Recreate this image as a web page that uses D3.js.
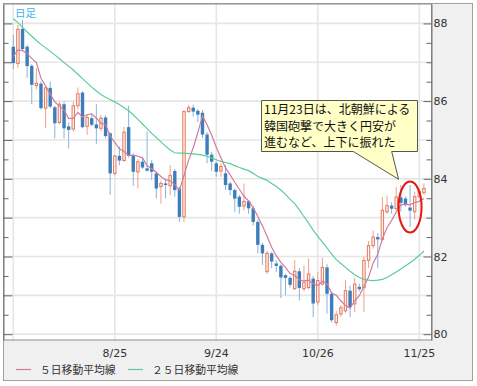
<!DOCTYPE html>
<html>
<head>
<meta charset="utf-8">
<script src="https://cdn.jsdelivr.net/npm/d3@7"></script>
<style>
body{margin:0;background:#fff;}
svg text{font-family:"DejaVu Sans",sans-serif;}
.jp{font-family:"Noto Sans CJK JP",sans-serif;}
</style>
</head>
<body>
<svg id="chart" width="477" height="386"></svg>
<script>
// daily candles, 2010/7/26 .. 2010/11/26 (index = trading day)
const openV = [87.40,86.97,87.86,87.40,86.91,86.40,86.45,85.82,86.34,85.84,
  85.45,85.92,85.35,85.28,85.88,86.22,85.35,85.56,85.40,85.30,
  85.58,85.17,84.14,84.59,84.47,85.33,84.59,84.18,84.44,84.27,
  84.40,84.14,83.80,83.88,83.82,84.20,83.75,83.02,85.73,85.83,
  85.75,85.70,85.14,84.62,84.40,84.20,84.14,83.88,83.71,83.54,
  83.30,83.42,83.24,82.89,82.30,81.61,82.08,81.82,81.76,81.52,
  81.45,81.17,81.62,81.17,81.20,81.43,80.83,81.29,81.72,81.04,
  80.30,80.52,80.60,81.12,80.78,81.22,81.20,81.90,82.28,82.50,
  82.44,83.15,83.31,83.23,83.52,83.49,83.26,83.15,83.54,83.64];
const highV = [87.70,87.96,88.09,87.45,86.95,86.85,86.51,86.38,86.51,85.88,
  85.99,85.99,85.45,85.99,86.35,86.25,85.66,85.64,85.92,85.64,
  85.64,85.20,84.61,84.83,85.34,85.88,84.65,84.50,84.57,85.22,
  84.48,84.18,83.95,84.01,84.35,84.25,83.80,85.77,85.91,85.91,
  85.80,85.77,85.20,84.70,84.45,84.40,84.35,83.92,83.75,83.58,
  83.88,83.45,83.30,82.95,82.35,82.15,82.12,81.90,81.80,81.55,
  81.50,81.91,81.70,81.77,81.95,81.50,81.60,81.97,81.80,81.10,
  80.60,80.75,81.39,81.25,81.45,81.30,82.00,82.40,82.67,82.60,
  83.53,83.57,83.40,83.79,83.84,83.55,83.84,83.67,83.72,83.88];
const lowV = [86.83,86.85,87.30,86.60,85.92,86.30,85.78,85.30,85.82,85.04,
  85.40,85.04,84.78,85.22,85.78,85.30,85.13,85.35,84.90,85.22,
  85.04,83.59,84.09,84.35,84.44,84.55,83.82,83.75,84.25,84.18,
  83.97,83.49,83.36,83.49,83.58,83.54,82.89,82.89,85.70,85.60,
  85.45,85.05,84.40,84.20,84.05,84.05,83.71,83.58,83.15,83.10,
  83.19,83.10,82.80,82.08,81.78,81.55,81.70,81.60,80.93,81.00,
  81.20,81.14,80.87,81.10,81.15,80.44,80.75,81.25,80.53,80.30,
  80.22,80.45,80.55,80.44,80.57,81.10,80.57,81.70,82.20,81.70,
  82.40,83.10,83.10,83.15,83.15,83.28,82.76,82.95,83.50,83.60];
const closeV = [86.98,87.85,87.34,86.90,86.42,86.46,85.82,86.34,85.86,85.43,
  85.92,85.30,85.26,85.88,86.19,85.33,85.58,85.39,85.30,85.56,
  85.10,84.14,84.59,84.47,85.20,84.59,84.18,84.44,84.29,84.21,
  84.18,83.75,83.88,83.84,84.09,83.71,83.02,85.73,85.83,85.73,
  85.65,85.14,84.62,84.44,84.18,84.32,83.84,83.71,83.49,83.28,
  83.42,83.24,82.89,82.30,82.08,82.08,81.87,81.76,81.46,81.45,
  81.27,81.62,81.19,81.34,81.55,80.79,81.38,81.72,81.04,80.36,
  80.50,80.68,81.12,80.70,81.29,81.16,81.90,82.28,82.50,82.44,
  83.19,83.31,83.23,83.53,83.38,83.32,83.18,83.54,83.67,83.75];
const ma5 = [87.15,87.32,87.30,87.22,87.10,86.99,86.59,86.39,86.18,85.98,
  85.87,85.77,85.55,85.56,85.71,85.59,85.65,85.67,85.56,85.43,
  85.39,85.10,84.94,84.77,84.70,84.60,84.61,84.58,84.54,84.34,
  84.26,84.17,84.06,83.97,83.95,83.85,83.71,84.08,84.48,84.80,
  85.19,85.62,85.39,85.12,84.81,84.54,84.28,84.10,83.91,83.73,
  83.55,83.43,83.26,83.03,82.79,82.52,82.24,82.02,81.85,81.72,
  81.56,81.51,81.40,81.37,81.39,81.30,81.25,81.36,81.30,81.06,
  81.00,80.86,80.74,80.67,80.86,80.99,81.23,81.47,81.83,82.06,
  82.46,82.74,82.93,83.14,83.33,83.35,83.33,83.39,83.42,83.49];
const ma25 = [88.12,88.02,87.90,87.78,87.67,87.56,87.46,87.37,87.28,87.19,
  87.09,86.99,86.90,86.80,86.69,86.58,86.47,86.36,86.26,86.17,
  86.10,86.04,85.98,85.91,85.83,85.75,85.65,85.53,85.41,85.29,
  85.17,85.06,84.95,84.84,84.74,84.67,84.66,84.66,84.65,84.64,
  84.63,84.61,84.58,84.54,84.49,84.45,84.42,84.39,84.34,84.29,
  84.25,84.21,84.14,84.06,84.01,83.96,83.88,83.80,83.71,83.60,
  83.47,83.36,83.20,83.03,82.86,82.68,82.52,82.37,82.22,82.06,
  81.92,81.82,81.72,81.62,81.53,81.46,81.41,81.39,81.38,81.39,
  81.41,81.46,81.53,81.60,81.68,81.76,81.84,81.93,82.03,82.14];

const gridDays = [0, 22, 44, 66, 88];
const tickDays = [22, 44, 66, 88];
const tickLabels = ["8/25", "9/24", "10/26", "11/25"];
const priceLabels = [80, 82, 84, 86, 88];
const noteLines = ["11月23日は、北朝鮮による", "韓国砲撃で大きく円安が", "進むなど、上下に振れた"];
const legendNames = ["５日移動平均線", "２５日移動平均線"];
const chartTitle = "日足";

const svg = d3.select("#chart");
const L = 3.5, R = 431.5, T = 4, B = 340;

const x = d3.scaleLinear().domain([0, 88]).range([13.3, 419.3]);
const y = d3.scaleLinear().domain([79.85, 88.5]).range([B, T]);

// outer panel
svg.append("rect").attr("x", 3.5).attr("y", 3.5).attr("width", 469).attr("height", 377)
  .attr("fill", "#f0f0f0").attr("stroke", "#a0a0a0");
svg.append("rect").attr("x", L).attr("y", T).attr("width", R - L).attr("height", B - T)
  .attr("fill", "#fff");

svg.append("clipPath").attr("id", "plotclip").append("rect")
  .attr("x", L).attr("y", T).attr("width", R - L).attr("height", B - T);

// grid
const grid = svg.append("g");
grid.selectAll(".h").data(d3.range(80, 89)).join("line")
  .attr("x1", L).attr("x2", R).attr("y1", d => y(d)).attr("y2", d => y(d))
  .attr("stroke", "#e6e6e6").attr("stroke-width", 1.6);
grid.selectAll(".v").data(gridDays).join("line")
  .attr("x1", d => x(d)).attr("x2", d => x(d)).attr("y1", T).attr("y2", B)
  .attr("stroke", "#e6e6e6").attr("stroke-width", 1.6);

// candles
const plot = svg.append("g").attr("clip-path", "url(#plotclip)");
const idx = d3.range(closeV.length);
const up = i => closeV[i] >= openV[i];

plot.selectAll(".wick").data(idx).join("line")
  .attr("x1", i => x(i)).attr("x2", i => x(i))
  .attr("y1", i => y(highV[i])).attr("y2", i => y(lowV[i]))
  .attr("stroke", i => up(i) ? "#f0a08c" : "#86b4da").attr("stroke-width", 1);

plot.selectAll(".body").data(idx).join("rect")
  .attr("x", i => up(i) ? x(i) - 1.2 : x(i) - 1.7)
  .attr("width", i => up(i) ? 2.4 : 3.4)
  .attr("y", i => y(Math.max(openV[i], closeV[i])))
  .attr("height", i => Math.max(1.2, Math.abs(y(openV[i]) - y(closeV[i]))))
  .attr("fill", i => up(i) ? "#fff4ef" : "#3d7dba")
  .attr("stroke", i => up(i) ? "#e2775c" : "none")
  .attr("stroke-width", 1);

// moving averages
const line = d3.line().x((d, i) => x(i)).y(d => y(d));
plot.append("path").datum(ma25).attr("d", line)
  .attr("fill", "none").attr("stroke", "#5ccc98").attr("stroke-width", 1.2);
plot.append("path").datum(ma5).attr("d", line)
  .attr("fill", "none").attr("stroke", "#cf7c9f").attr("stroke-width", 1.2);

// frame of plot
svg.append("rect").attr("x", L).attr("y", T).attr("width", R - L).attr("height", B - T)
  .attr("fill", "none").attr("stroke", "#8c8c8c");

// axes
const halfTicks = d3.range(80, 88.01, 0.5);
const leftAxis = d3.axisLeft(y).tickValues(halfTicks).tickSize(-9).tickSizeOuter(0).tickFormat("");
const gl = svg.append("g").attr("transform", `translate(${L},0)`).call(leftAxis);
gl.selectAll(".tick line").attr("x2", d => d % 1 === 0 ? 9 : 5).attr("stroke", "#666");
gl.select(".domain").attr("stroke", "#777");

const rightAxis = d3.axisRight(y).tickValues(halfTicks).tickSize(-8).tickSizeOuter(0).tickPadding(2)
  .tickFormat(d => priceLabels.includes(d) ? d : "");
const gr = svg.append("g").attr("transform", `translate(${R},0)`).call(rightAxis);
gr.selectAll(".tick line").attr("x2", d => priceLabels.includes(d) ? -8 : -5).attr("stroke", "#666");
gr.select(".domain").attr("stroke", "#777");
gr.selectAll("text").attr("font-size", 11).attr("font-family", "DejaVu Sans").attr("fill", "#333");

// date labels
svg.append("g").selectAll("text").data(tickDays).join("text")
  .attr("x", d => x(d)).attr("y", 357).attr("text-anchor", "middle")
  .attr("font-size", 11).attr("fill", "#333")
  .text((d, k) => tickLabels[k]);

// title
svg.append("text").attr("class", "jp").attr("x", 15).attr("y", 17)
  .attr("font-size", 10.5).attr("fill", "#3db4ee").text(chartTitle);

// legend
const legColors = ["#cf7c9f", "#5ccc98"];
const legX = [16, 128];
legendNames.forEach((name, k) => {
  svg.append("line").attr("x1", legX[k]).attr("x2", legX[k] + 15).attr("y1", 369.5).attr("y2", 369.5)
    .attr("stroke", legColors[k]).attr("stroke-width", 1.2);
  svg.append("text").attr("class", "jp").attr("x", legX[k] + 24).attr("y", 373.5)
    .attr("font-size", 10.8).attr("fill", "#333").text(name);
});

// callout
const bx0 = 261.5, bx1 = 417.5, by0 = 100.5, by1 = 151.5;
const tip = [x(86) - 11.5, 179.3];
svg.append("path")
  .attr("d", `M${bx0},${by0}H${bx1}V${by1}H391.7L${tip[0]},${tip[1]}L353.3,${by1}H${bx0}Z`)
  .attr("fill", "#ffffc6").attr("stroke", "#555").attr("stroke-width", 1);
svg.append("g").selectAll("text").data(noteLines).join("text")
  .attr("class", "jp").attr("x", 264).attr("y", (d, k) => 114 + k * 16.7)
  .attr("font-size", 12).attr("fill", "#111").text(d => d);

// highlight ellipse
svg.append("ellipse").attr("cx", x(86)).attr("cy", 207).attr("rx", 11.5).attr("ry", 25.5)
  .attr("fill", "none").attr("stroke", "#e8140f").attr("stroke-width", 2);
</script>
</body>
</html>
